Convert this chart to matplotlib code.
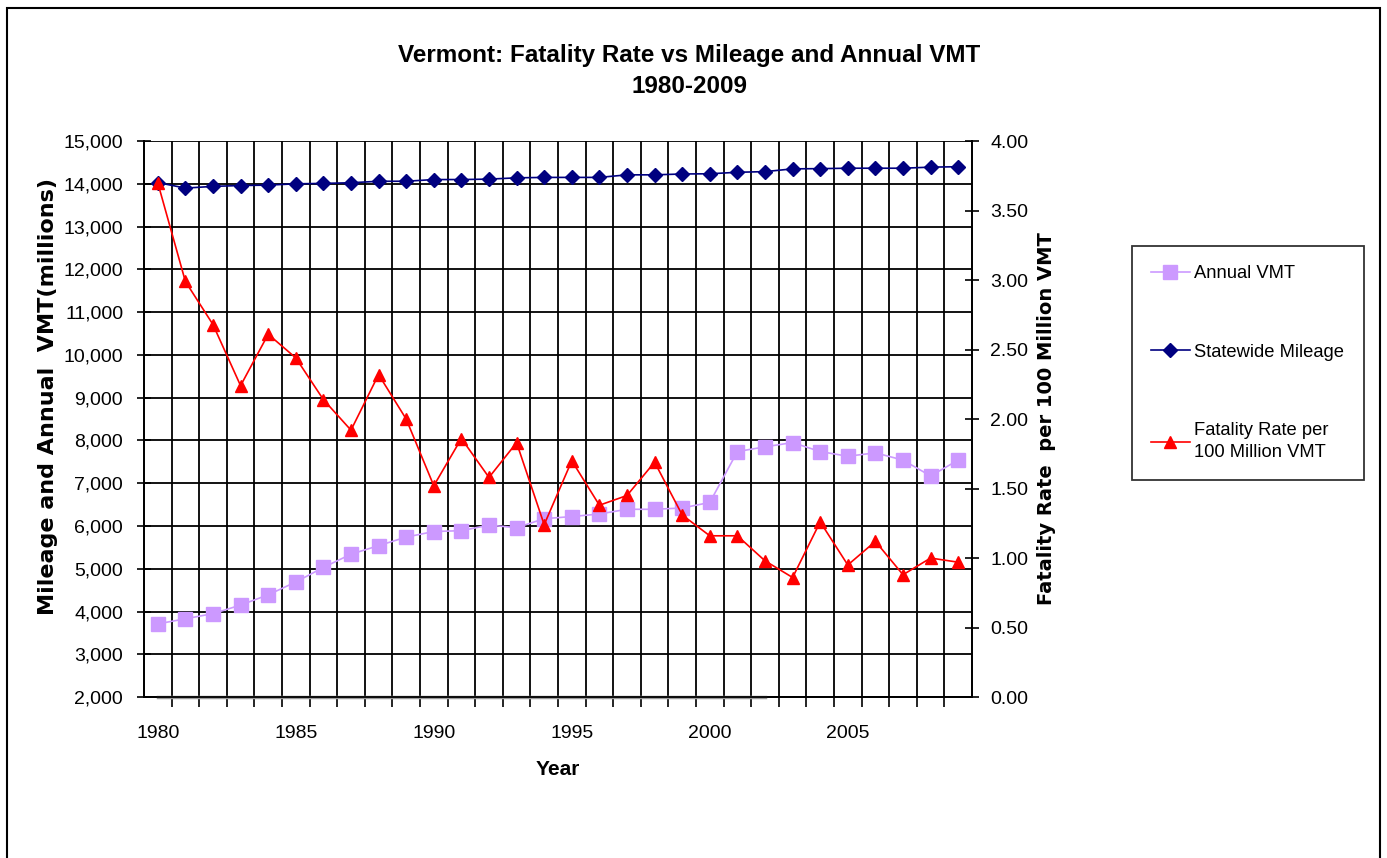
import matplotlib
matplotlib.use("Agg")
import matplotlib.pyplot as plt
from matplotlib.ticker import FuncFormatter, MultipleLocator, FixedLocator
from matplotlib.patches import Rectangle

plt.rcParams['font.family'] = ['Liberation Sans', 'DejaVu Sans']

years = list(range(1980, 2010))

annual_vmt = [3710, 3830, 3950, 4150, 4390, 4690, 5030, 5340, 5540, 5740,
              5870, 5890, 6020, 5960, 6170, 6220, 6280, 6390, 6390, 6420,
              6550, 7740, 7850, 7950, 7740, 7630, 7710, 7540, 7170, 7540]

statewide_mileage = [14030, 13900, 13940, 13960, 13970, 14000, 14010, 14025, 14060, 14060,
                     14100, 14100, 14110, 14140, 14150, 14150, 14150, 14210, 14210, 14230,
                     14235, 14270, 14285, 14350, 14355, 14365, 14365, 14365, 14390, 14400]

fatality_rate = [3.70, 2.99, 2.68, 2.24, 2.61, 2.44, 2.14, 1.92, 2.32, 2.00,
                 1.52, 1.86, 1.58, 1.83, 1.24, 1.70, 1.38, 1.45, 1.69, 1.31,
                 1.16, 1.16, 0.98, 0.86, 1.26, 0.95, 1.12, 0.88, 1.00, 0.97]

# faint unlabeled series lying on the zero line (1980-2002)
other_years = list(range(1980, 2003))
other_values = [0, 0, 0, 0, 0, 0, 0, 0, 0, 0, 0, 0,
                0, 0, 0, 0, 0, 0, 0, 0, 0, 0, 0]

fig = plt.figure(figsize=(13.87, 8.58), dpi=100)
ax = fig.add_axes([0.1038, 0.1876, 0.597, 0.648])
ax2 = ax.twinx()

ax.plot(years, annual_vmt, color='#CC99FF', lw=1.2, marker='s', ms=9.5,
        mec='#CC99FF', label='Annual VMT', zorder=3)
ax.plot(years, statewide_mileage, color='#000080', lw=1.2, marker='D', ms=7,
        label='Statewide Mileage', zorder=4)
ax2.plot(other_years, other_values, color='#999999', lw=2.5, zorder=2, clip_on=False)
ax2.plot(years, fatality_rate, color='#FF0000', lw=1.2, marker='^', ms=9,
         label='Fatality Rate per\n100 Million VMT', zorder=5)

ax.set_xlim(1979.5, 2009.5)
ax.set_ylim(2000, 15000)
ax2.set_ylim(0, 4)

ax.xaxis.set_major_locator(FixedLocator([1980, 1985, 1990, 1995, 2000, 2005]))
ax.xaxis.set_minor_locator(FixedLocator([y + 0.5 for y in range(1980, 2009)]))
ax.yaxis.set_major_locator(MultipleLocator(1000))
ax.yaxis.set_major_formatter(FuncFormatter(lambda v, p: f'{int(v):,}'))
ax2.yaxis.set_major_locator(MultipleLocator(0.5))
ax2.yaxis.set_major_formatter(FuncFormatter(lambda v, p: f'{v:.2f}'))

ax.grid(which='minor', axis='x', color='black', lw=1.3)
ax.grid(which='major', axis='y', color='black', lw=1.3)
ax.set_axisbelow(True)

ax.tick_params(axis='x', which='major', length=0, labelsize=14, pad=20)
ax.tick_params(axis='x', which='minor', length=7, width=1.2, direction='out')
ax.tick_params(axis='y', length=10, width=1.2, direction='inout', labelsize=14, pad=10)
ax2.tick_params(axis='y', length=10, width=1.2, direction='inout', labelsize=14, pad=8)

for a in (ax, ax2):
    a.spines['top'].set_visible(False)
    for s in ('left', 'right', 'bottom'):
        a.spines[s].set_linewidth(1.3)

ax.set_xlabel('Year', fontsize=15, fontweight='bold', labelpad=13)
ax.set_ylabel('Mileage and Annual  VMT(millions)', fontsize=16, fontweight='bold',
              family='DejaVu Sans', labelpad=4)
ax.yaxis.label.set_y(0.541)
ax2.set_ylabel('Fatality Rate  per 100 Million VMT', fontsize=14, fontweight='bold',
               family='DejaVu Sans', labelpad=6)

fig.text(0.497, 0.9172, 'Vermont: Fatality Rate vs Mileage and Annual VMT\n1980-2009',
         ha='center', va='center', fontsize=17.5, fontweight='bold', linespacing=1.45)

h1, l1 = ax.get_legend_handles_labels()
h2, l2 = ax2.get_legend_handles_labels()
leg = fig.legend(h1 + h2, l1 + l2, loc='upper left', bbox_to_anchor=(0.816, 0.713),
                 prop={'size': 13.2}, frameon=True, fancybox=False, edgecolor='black',
                 labelspacing=3.35, handlelength=2.1, handletextpad=0.27,
                 borderpad=1.05, borderaxespad=0)
leg.get_frame().set_linewidth(1.3)
for t in leg.get_texts():
    t.set_linespacing(1.35)

fig.patches.append(Rectangle((0.005, -0.05), 0.9949 - 0.005, 1.05 - 0.0093,
                             transform=fig.transFigure, fill=False,
                             edgecolor='black', lw=1.5))

fig.savefig('out.png', dpi=100)
